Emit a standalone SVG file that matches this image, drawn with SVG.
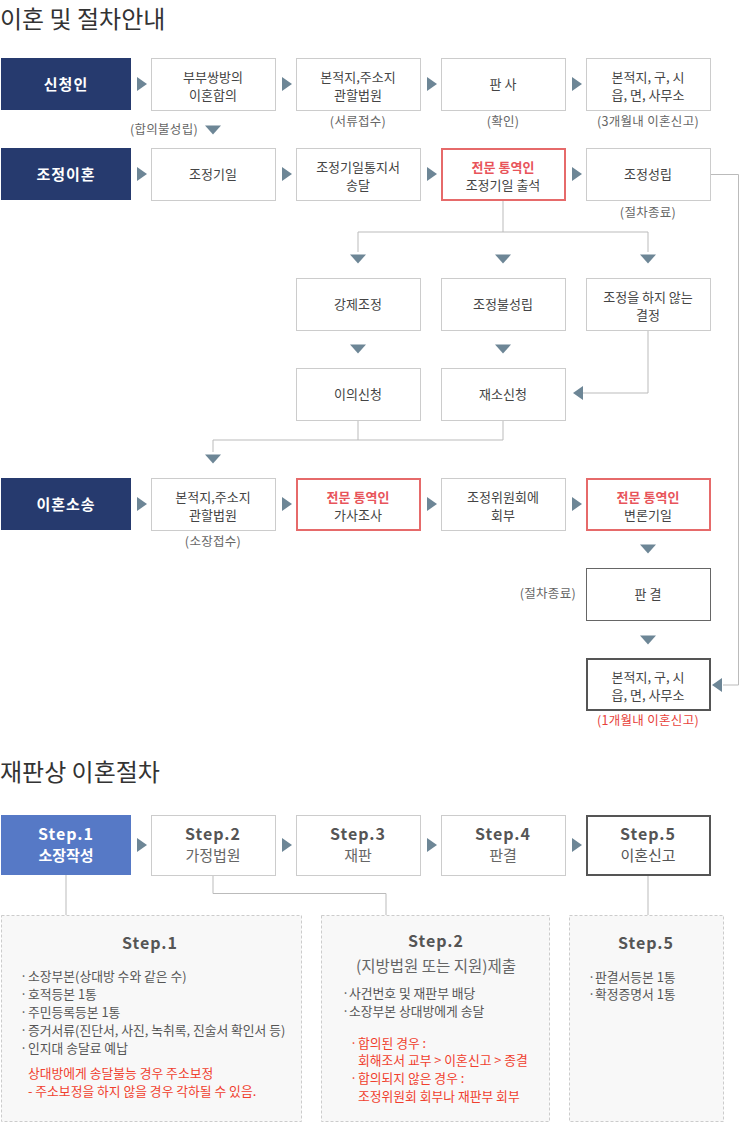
<svg xmlns="http://www.w3.org/2000/svg" width="740" height="1134" viewBox="0 0 740 1134">
<style>
text{font-family:"Noto Sans CJK KR","Noto Sans",sans-serif}
.box{fill:#fff;stroke:#ccc;stroke-width:1}
.dark{fill:#263a6e}
.red{fill:#fff;stroke:#e66a6a;stroke-width:2}
.dk{fill:#fff;stroke:#555;stroke-width:2}
.dk1{fill:#fff;stroke:#666;stroke-width:1}
.arr{fill:#6d8696}
.ln{fill:none;stroke:#bbb;stroke-width:1}
.bt{font-size:13px;fill:#444;text-anchor:middle}
.rt{font-size:13px;fill:#e8545a;font-weight:bold;text-anchor:middle}
.wt{font-size:15px;fill:#fff;font-weight:bold;text-anchor:middle;letter-spacing:1px}
.cap{font-size:12.5px;fill:#666;text-anchor:middle;letter-spacing:0.3px}
.capr{font-size:12.5px;fill:#e8413a;text-anchor:middle;letter-spacing:0.3px}
.title{font-size:24px;fill:#333}
.st{font-size:16px;font-weight:bold;fill:#555;text-anchor:middle;letter-spacing:1px}
.sub{font-size:15px;fill:#666;text-anchor:middle}
.det{fill:#f8f8f8;stroke:#ccc;stroke-width:1;stroke-dasharray:3,2}
.li{font-size:12.8px;fill:#555}
.lr{font-size:12.8px;fill:#f0402e}
</style>
<defs>
<path id="ar" d="M-5,-7 L5,0 L-5,7 Z"/>
<path id="ad" d="M-8,-4.5 L8,-4.5 L0,4.5 Z"/>
<path id="al" d="M5,-7 L-5,0 L5,7 Z"/>
</defs>

<text class="title" x="0" y="28">이혼 및 절차안내</text>

<g id="connectors">
<path class="ln" d="M503,200 V232 M358,252 V232 H648 V252"/>
<path class="ln" d="M648,330 V393 H583"/>
<path class="ln" d="M358,420 V440 M503,420 V440 H213 V452"/>
<path class="ln" d="M710,174.5 H738.5 V685 H723"/>
<path class="ln" d="M66,875 V915 M213,875 V893.5 H386 V915 M648,875 V915"/>
<g class="arr">
<use href="#ar" x="142" y="84"/><use href="#ar" x="287" y="84"/><use href="#ar" x="432" y="84"/><use href="#ar" x="577" y="84"/>
<use href="#ad" x="213" y="130"/>
<use href="#ar" x="142" y="174"/><use href="#ar" x="287" y="174"/><use href="#ar" x="432" y="174"/><use href="#ar" x="577" y="174"/>
<use href="#ad" x="358" y="259"/><use href="#ad" x="503" y="259"/><use href="#ad" x="648" y="259"/>
<use href="#ad" x="358" y="349"/><use href="#ad" x="503" y="349"/>
<use href="#al" x="578" y="393"/>
<use href="#ad" x="213" y="459"/>
<use href="#ar" x="142" y="504"/><use href="#ar" x="287" y="504"/><use href="#ar" x="432" y="504"/><use href="#ar" x="577" y="504"/>
<use href="#ad" x="648" y="549"/>
<use href="#ad" x="648" y="640"/>
<use href="#al" x="717" y="685"/>
<use href="#ar" x="142" y="845"/><use href="#ar" x="287" y="845"/><use href="#ar" x="432" y="845"/><use href="#ar" x="577" y="845"/>
</g>
</g>

<!-- Row 1 -->
<g id="n-sincheongin"><rect class="dark" x="1" y="58" width="130" height="52"/><text class="wt" x="66" y="90">신청인</text></g>
<g id="n-r1c1"><rect class="box" x="151.5" y="58.5" width="124" height="52"/><text class="bt" x="213" y="81.5">부부쌍방의</text><text class="bt" x="213" y="100">이혼합의</text></g>
<g id="n-r1c2"><rect class="box" x="296.5" y="58.5" width="124" height="52"/><text class="bt" x="358" y="81.5">본적지,주소지</text><text class="bt" x="358" y="100">관할법원</text><text class="cap" x="358" y="126">(서류접수)</text></g>
<g id="n-r1c3"><rect class="box" x="441.5" y="58.5" width="124" height="52"/><text class="bt" x="503" y="89">판 사</text><text class="cap" x="503" y="126">(확인)</text></g>
<g id="n-r1c4"><rect class="box" x="586.5" y="58.5" width="124" height="52"/><text class="bt" x="648" y="81.5">본적지, 구, 시</text><text class="bt" x="648" y="100">읍, 면, 사무소</text><text class="cap" x="648" y="126">(3개월내 이혼신고)</text></g>
<text class="cap" x="198" y="134" style="text-anchor:end">(합의불성립)</text>

<!-- Row 2 -->
<g id="n-jojeong"><rect class="dark" x="1" y="148" width="130" height="52"/><text class="wt" x="66" y="180">조정이혼</text></g>
<g id="n-r2c1"><rect class="box" x="151.5" y="148.5" width="124" height="52"/><text class="bt" x="213" y="179">조정기일</text></g>
<g id="n-r2c2"><rect class="box" x="296.5" y="148.5" width="124" height="52"/><text class="bt" x="358" y="171.5">조정기일통지서</text><text class="bt" x="358" y="190">송달</text></g>
<g id="n-r2c3"><rect class="red" x="442" y="149" width="123" height="51"/><text class="rt" x="503" y="171.5">전문 통역인</text><text class="bt" x="503" y="190">조정기일 출석</text></g>
<g id="n-r2c4"><rect class="box" x="586.5" y="148.5" width="124" height="52"/><text class="bt" x="648" y="179">조정성립</text><text class="cap" x="648" y="217">(절차종료)</text></g>

<!-- Row 3 -->
<g id="n-r3c2"><rect class="box" x="296.5" y="278.5" width="124" height="52"/><text class="bt" x="358" y="309">강제조정</text></g>
<g id="n-r3c3"><rect class="box" x="441.5" y="278.5" width="124" height="52"/><text class="bt" x="503" y="309">조정불성립</text></g>
<g id="n-r3c4"><rect class="box" x="586.5" y="278.5" width="124" height="52"/><text class="bt" x="648" y="301.5">조정을 하지 않는</text><text class="bt" x="648" y="320">결정</text></g>

<!-- Row 4 -->
<g id="n-r4c2"><rect class="box" x="296.5" y="368.5" width="124" height="52"/><text class="bt" x="358" y="399">이의신청</text></g>
<g id="n-r4c3"><rect class="box" x="441.5" y="368.5" width="124" height="52"/><text class="bt" x="503" y="399">재소신청</text></g>

<!-- Row 5 -->
<g id="n-sosong"><rect class="dark" x="1" y="478" width="130" height="52"/><text class="wt" x="66" y="510">이혼소송</text></g>
<g id="n-r5c1"><rect class="box" x="151.5" y="478.5" width="124" height="52"/><text class="bt" x="213" y="501.5">본적지,주소지</text><text class="bt" x="213" y="520">관할법원</text><text class="cap" x="213" y="546">(소장접수)</text></g>
<g id="n-r5c2"><rect class="red" x="297" y="479" width="123" height="51"/><text class="rt" x="358" y="501.5">전문 통역인</text><text class="bt" x="358" y="520">가사조사</text></g>
<g id="n-r5c3"><rect class="box" x="441.5" y="478.5" width="124" height="52"/><text class="bt" x="503" y="501.5">조정위원회에</text><text class="bt" x="503" y="520">회부</text></g>
<g id="n-r5c4"><rect class="red" x="587" y="479" width="123" height="51"/><text class="rt" x="648" y="501.5">전문 통역인</text><text class="bt" x="648" y="520">변론기일</text></g>

<g id="n-pangyeol"><rect class="dk1" x="586.5" y="568.5" width="124" height="52"/><text class="bt" x="648" y="599">판 결</text><text class="cap" x="576" y="598" style="text-anchor:end">(절차종료)</text></g>
<g id="n-final"><rect class="dk" x="587" y="659" width="123" height="51"/><text class="bt" x="648" y="681.5">본적지, 구, 시</text><text class="bt" x="648" y="700">읍, 면, 사무소</text><text class="capr" x="648" y="725">(1개월내 이혼신고)</text></g>

<!-- Section 2 -->
<text class="title" x="0" y="781">재판상 이혼절차</text>

<g id="s1"><rect x="1" y="815" width="130" height="60" fill="#5679c6"/><text class="st" x="66" y="840" style="fill:#fff">Step.1</text><text class="sub" x="66" y="861" style="fill:#fff;font-weight:bold">소장작성</text></g>
<g id="s2"><rect class="box" x="151.5" y="815.5" width="124" height="60"/><text class="st" x="213" y="840">Step.2</text><text class="sub" x="213" y="861">가정법원</text></g>
<g id="s3"><rect class="box" x="296.5" y="815.5" width="124" height="60"/><text class="st" x="358" y="840">Step.3</text><text class="sub" x="358" y="861">재판</text></g>
<g id="s4"><rect class="box" x="441.5" y="815.5" width="124" height="60"/><text class="st" x="503" y="840">Step.4</text><text class="sub" x="503" y="861">판결</text></g>
<g id="s5"><rect class="dk" x="587" y="816" width="123" height="59"/><text class="st" x="648" y="840">Step.5</text><text class="sub" x="648" y="861" style="fill:#555">이혼신고</text></g>

<g id="d1">
<rect class="det" x="1.5" y="915.5" width="300" height="206"/>
<text class="st" x="150" y="949">Step.1</text>
<text class="li"><tspan x="20" y="981">·</tspan><tspan x="28" y="981">소장부본(상대방 수와 같은 수)</tspan></text>
<text class="li"><tspan x="20" y="999">·</tspan><tspan x="28" y="999">호적등본 1통</tspan></text>
<text class="li"><tspan x="20" y="1017">·</tspan><tspan x="28" y="1017">주민등록등본 1통</tspan></text>
<text class="li"><tspan x="20" y="1035">·</tspan><tspan x="28" y="1035">증거서류(진단서, 사진, 녹취록, 진술서 확인서 등)</tspan></text>
<text class="li"><tspan x="20" y="1053">·</tspan><tspan x="28" y="1053">인지대 송달료 예납</tspan></text>
<text class="lr" x="28" y="1078">상대방에게 송달불능 경우 주소보정</text>
<text class="lr" x="28" y="1096">- 주소보정을 하지 않을 경우 각하될 수 있음.</text>
</g>

<g id="d2">
<rect class="det" x="321.5" y="915.5" width="228" height="206"/>
<text class="st" x="436" y="947">Step.2</text>
<text class="sub" x="436" y="972" style="font-size:15.5px">(지방법원 또는 지원)제출</text>
<text class="li"><tspan x="342" y="998">·</tspan><tspan x="349" y="998">사건번호 및 재판부 배당</tspan></text>
<text class="li"><tspan x="342" y="1016">·</tspan><tspan x="349" y="1016">소장부본 상대방에게 송달</tspan></text>
<text class="lr"><tspan x="350" y="1047.5">·</tspan><tspan x="358" y="1047.5">합의된 경우 :</tspan></text>
<text class="lr" x="358" y="1065">회해조서 교부 &gt; 이혼신고 &gt; 종결</text>
<text class="lr"><tspan x="350" y="1082.5">·</tspan><tspan x="358" y="1082.5">합의되지 않은 경우 :</tspan></text>
<text class="lr" x="358" y="1100.5">조정위원회 회부나 재판부 회부</text>
</g>

<g id="d3">
<rect class="det" x="569.5" y="915.5" width="154" height="206"/>
<text class="st" x="646" y="949">Step.5</text>
<text class="li"><tspan x="588" y="981.5">·</tspan><tspan x="595" y="981.5">판결서등본 1통</tspan></text>
<text class="li"><tspan x="588" y="998.5">·</tspan><tspan x="595" y="998.5">확정증명서 1통</tspan></text>
</g>
</svg>
